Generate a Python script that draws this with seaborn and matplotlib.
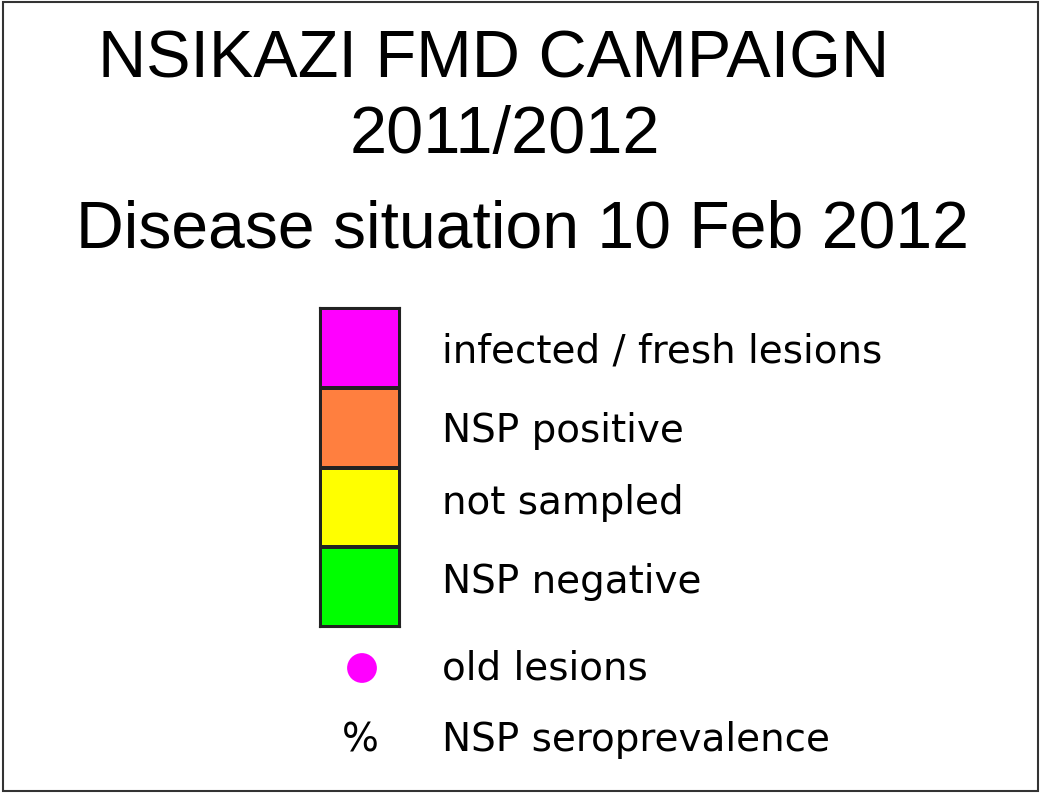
import numpy as np
import pandas as pd
import matplotlib
matplotlib.use("Agg")
import matplotlib.pyplot as plt
from matplotlib.colors import ListedColormap
from matplotlib.patches import Rectangle
import seaborn as sns

# legend content
title_lines = ["NSIKAZI FMD CAMPAIGN", "2011/2012", "Disease situation 10 Feb 2012"]
categories = ["infected / fresh lesions", "NSP positive", "not sampled", "NSP negative"]
category_colors = ["#FF00FF", "#FF7F3F", "#FFFF00", "#00FF00"]
extra_labels = ["old lesions", "NSP seroprevalence"]
dot_color = "#FF00FF"

sns.set_style("white")
plt.rcParams["font.family"] = ["Liberation Sans", "DejaVu Sans"]
plt.rcParams["text.color"] = "black"

W, H = 1041, 795
fig = plt.figure(figsize=(W / 100, H / 100), dpi=100)

# full-figure axes in pixel units
ax = fig.add_axes([0, 0, 1, 1])

ax.add_patch(Rectangle((3, 2), 1035, 789, fill=False, edgecolor="#333333", lw=1.5))

# titles
title_x = [494, 505, 523]
title_y = [77, 153, 247]
title_size = [48, 48, 47.6]
for t, x, y, fs in zip(title_lines, title_x, title_y, title_size):
    ax.text(x, y, t, ha="center", va="baseline", fontsize=fs, color="black")

# colour swatches as a 4x1 heatmap
sw = fig.add_axes([320 / W, 1 - 627 / H, 80 / W, 319 / H])
codes = pd.DataFrame({"status": np.arange(len(categories))}, index=categories)
sns.heatmap(codes, ax=sw, cmap=ListedColormap(category_colors), cbar=False,
            linewidths=1.5, linecolor="#222222", xticklabels=False, yticklabels=False)
for s in sw.spines.values():
    s.set_visible(True)
    s.set_color("#222222")
    s.set_linewidth(1.5)

lab_font = dict(family="DejaVu Sans", fontsize=28, color="black", va="baseline")
label_y = [362, 442, 514, 593]
for lab, y in zip(categories, label_y):
    ax.text(442, y, lab, ha="left", **lab_font)

# old lesions dot
dots = pd.DataFrame({"x": [362], "y": [668]})
sns.scatterplot(data=dots, x="x", y="y", ax=ax, s=460, color=dot_color,
                edgecolor="none", legend=False)
ax.text(442, 680, extra_labels[0], ha="left", **lab_font)
ax.text(360, 751, "%", ha="center", **lab_font)
ax.text(442, 751, extra_labels[1], ha="left", **lab_font)

ax.set_xlim(0, W)
ax.set_ylim(H, 0)
ax.axis("off")

fig.savefig("out.png", dpi=100)
